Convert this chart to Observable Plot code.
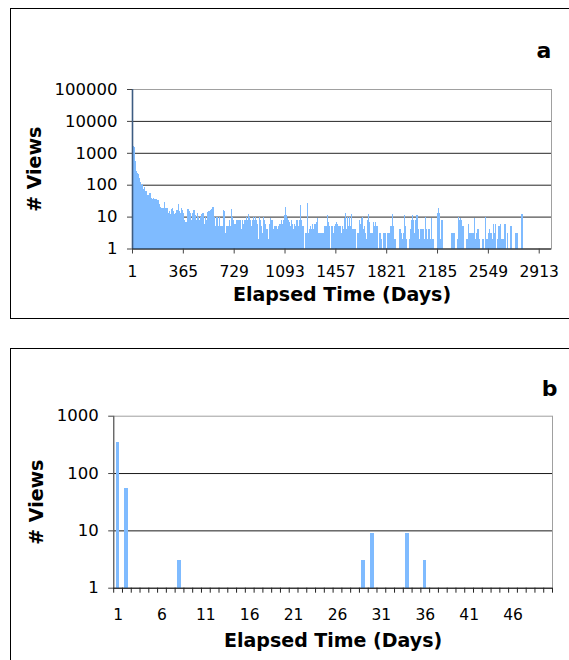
<!DOCTYPE html>
<html><head><meta charset="utf-8">
<script src="https://cdn.jsdelivr.net/npm/d3@7"></script>
<script src="https://cdn.jsdelivr.net/npm/@observablehq/plot@0.6"></script>
<style>
body{margin:0;background:#fff;}
#wrap{position:relative;width:569px;height:660px;overflow:hidden;background:#fff;}
.box{position:absolute;border:1px solid #000;}
#boxA{left:10px;top:8px;width:620px;height:309px;}
#boxB{left:10px;top:348px;width:620px;height:400px;}
.panel{position:absolute;left:0;}
</style></head><body>
<div id="wrap"><div class="box" id="boxA"></div><div class="box" id="boxB"></div>
<div class="panel" id="pa" style="top:0"></div><div class="panel" id="pb" style="top:330px"></div></div>
<script>
const FONT = 'Verdana, "DejaVu Sans", sans-serif';
const BAR = "#7fbbff";

// ---- Panel a: views per elapsed day (each bin ~ one week, max views in bin) ----
const dayTicksA = [1, 365, 729, 1093, 1457, 1821, 2185, 2549, 2913];
const viewTicksA = [1, 10, 100, 1000, 10000, 100000];
const firstDayViews = 100000;
const binDays = 7.15;
const binViews = [
1580,1500,540,260,240,220,160,120,95,105,71,87,62,62,46,46,54,54,39,36,
39,36,35,35,33,33,25,20,18,19,18,29,18,18,19,13,15,12,17,18,
15,12,13,16,16,25,15,13,19,16,13,8,7,7,17,17,15,13,8,13,
16,16,11,8,13,10,8,10,12,13,13,6,10,8,14,15,15,16,17,20,
20,10,5,10,10,5,10,5,5,5,16,15,3,5,5,5,8,5,17,10,
8,6,6,8,8,8,8,8,4,8,6,8,8,10,8,12,10,8,5,8,
10,8,10,8,6,2,10,8,5,3,10,8,6,4,4,2,6,9,8,8,
4,5,5,5,4,5,6,6,8,6,8,11,20,11,9,8,7,5,8,6,
4,6,5,8,8,5,8,23,8,5,5,0,3,3,27,3,4,5,4,6,
4,6,6,7,9,3,3,3,3,3,3,5,5,5,11,7,5,0,5,5,
3,5,6,7,6,5,5,5,3,5,4,9,13,4,10,5,10,5,12,4,
4,4,4,0,3,3,8,6,9,10,4,5,3,2,8,12,7,3,3,3,
7,5,7,5,5,0,3,3,2,0,3,3,3,0,3,3,3,5,5,12,
5,2,2,0,0,0,4,4,3,2,3,11,5,2,0,0,2,4,8,11,
8,3,8,11,11,4,2,4,4,4,4,2,10,4,2,4,4,2,9,2,
2,0,0,0,13,18,13,2,8,8,0,0,0,0,0,0,0,0,3,3,
3,3,0,0,2,10,8,9,8,5,5,0,0,2,2,6,3,3,3,3,
3,9,2,3,4,4,2,0,0,2,2,0,10,2,2,3,4,3,3,2,
3,6,3,6,0,2,5,5,6,2,2,2,6,6,0,3,0,0,5,5,
0,0,0,3,3,3,0,0,0,12,12
];
const barsA = binViews
  .map((v, i) => ({start: 1 + (i + 1) * binDays, end: 1 + (i + 2) * binDays, views: v}))
  .filter(d => d.views > 0);

// ---- Panel b: first 50 days ----
const categoriesB = d3.range(1, 51);
const dayTicksB = [1, 6, 11, 16, 21, 26, 31, 36, 41, 46];
const viewTicksB = [1, 10, 100, 1000];
const daysB = [1, 2, 8, 29, 30, 34, 36];
const viewsB = [345, 55, 3, 3, 9, 9, 3];
const barsB = daysB.map((d, i) => ({day: d, views: viewsB[i]}));
const boundariesB = [categoriesB[0] - 0.5, ...categoriesB.map(c => c + 0.5)];

const common = {fontFamily: FONT, fontSize: "16.5px", color: "#000", background: "transparent", overflow: "visible"};

const plotA = Plot.plot({
  width: 569, height: 330,
  marginLeft: 132, marginRight: 18, marginTop: 89, marginBottom: 81.5,
  style: common,
  x: {domain: [1, 3001]},
  y: {type: "log", domain: [1, 100000]},
  marks: [
    Plot.frame({stroke: "#a0a0a0"}),
    Plot.gridY([10, 100, 1000, 10000], {stroke: "#000", strokeOpacity: 0.85}),
    Plot.rect(barsA, {x1: "start", x2: "end", y1: 1, y2: "views", fill: BAR, shapeRendering: "crispEdges"}),
    Plot.ruleX([firstDayViews], {x: 1, y1: 1, y2: d => d, stroke: "#3d5c82", strokeWidth: 1.6}),
    Plot.ruleY([1], {stroke: "#000"}),
    Plot.axisY({ticks: viewTicksA, tickFormat: d => String(d), tickSize: 5, tickPadding: 10, fontSize: 16.5, label: null, stroke: "#444"}),
    Plot.axisX({ticks: dayTicksA, tickFormat: d => String(d), tickSize: 5, tickPadding: 12, fontSize: 15.5, label: null, stroke: "#444"}),
    Plot.text(["Elapsed Time (Days)"], {frameAnchor: "bottom", dy: 52.1, fontWeight: "bold", fontSize: 19}),
    Plot.text(["# Views"], {frameAnchor: "left", dx: -97.5, rotate: -90, textAnchor: "middle", fontWeight: "bold", fontSize: 19}),
    Plot.text(["a"], {frameAnchor: "top-right", dx: -7.5, dy: -46.7, textAnchor: "middle", fontWeight: "bold", fontSize: 22})
  ]
});
document.getElementById("pa").append(plotA);

const plotB = Plot.plot({
  width: 569, height: 330,
  marginLeft: 113.2, marginRight: 17, marginTop: 85.7, marginBottom: 72.3,
  style: common,
  x: {domain: [0.5, 50.5]},
  y: {type: "log", domain: [1, 1000]},
  marks: [
    Plot.frame({stroke: "#a0a0a0"}),
    Plot.gridY([10, 100], {stroke: "#000", strokeOpacity: 0.9}),
    Plot.rect(barsB, {x1: d => d.day - 0.22, x2: d => d.day + 0.19, y1: 1, y2: "views", fill: BAR, shapeRendering: "crispEdges"}),
    Plot.ruleX([0.5], {stroke: "#666", strokeWidth: 1.3}),
    Plot.ruleY([1], {stroke: "#000"}),
    Plot.axisY({ticks: viewTicksB, tickFormat: d => String(d), tickSize: 5, tickPadding: 10, fontSize: 16.5, label: null, stroke: "#444"}),
    Plot.axisX({ticks: boundariesB, tickFormat: () => "", tickSize: 5, label: null, stroke: "#222", strokeOpacity: 1}),
    Plot.axisX({ticks: dayTicksB, tickFormat: d => String(d), tickSize: 0, tickPadding: 20.6, fontSize: 15.5, label: null}),
    Plot.text(["Elapsed Time (Days)"], {frameAnchor: "bottom", dy: 58.9, fontWeight: "bold", fontSize: 19}),
    Plot.text(["# Views"], {frameAnchor: "left", dx: -76.3, rotate: -90, textAnchor: "middle", fontWeight: "bold", fontSize: 19}),
    Plot.text(["b"], {frameAnchor: "top-right", dx: -2.8, dy: -36, textAnchor: "middle", fontWeight: "bold", fontSize: 22})
  ]
});
document.getElementById("pb").append(plotB);
</script>
</body></html>
